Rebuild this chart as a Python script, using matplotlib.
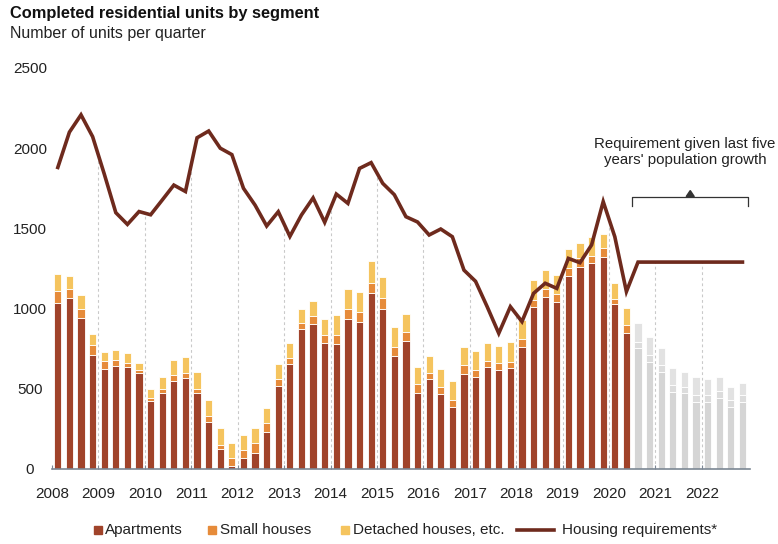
import matplotlib
matplotlib.use("Agg")
import matplotlib.pyplot as plt
from matplotlib.patches import Rectangle, Polygon
from matplotlib.lines import Line2D
import numpy as np

plt.rcParams['font.family'] = ['Liberation Sans', 'DejaVu Sans']

# quarterly data, 2008 Q1 .. 2022 Q4
years = list(range(2008, 2023))
n_actual = 50   # 2008 Q1 .. 2020 Q2 completed
apartments = [1037, 1064, 943, 711, 626, 640, 638, 596, 424, 472, 549, 565,
              472, 295, 123, 21, 66, 98, 233, 517, 653, 875, 904, 783,
              779, 933, 919, 1095, 998, 704, 800, 476, 559, 468, 389, 594,
              575, 638, 617, 628, 763, 1008, 1070, 1043, 1203, 1261, 1282, 1324,
              1029, 850,
              752, 669, 607, 482, 472, 420, 420, 445, 389, 420]
small_houses = [75, 58, 57, 64, 49, 40, 25, 21, 21, 25, 37, 34,
                25, 35, 27, 45, 52, 62, 56, 42, 37, 33, 50, 52,
                56, 62, 62, 63, 70, 59, 52, 54, 37, 41, 41, 54,
                42, 35, 42, 41, 45, 46, 50, 48, 48, 52, 46, 52,
                29, 48,
                40, 40, 40, 40, 40, 40, 40, 40, 40, 40]
detached = [102, 83, 83, 65, 56, 62, 62, 46, 54, 79, 96, 99,
            110, 100, 104, 98, 94, 94, 89, 96, 93, 87, 93, 98,
            125, 125, 125, 139, 131, 124, 112, 108, 111, 112, 119, 115,
            121, 115, 110, 125, 121, 124, 121, 118, 119, 94, 120, 87,
            104, 104,
            120, 112, 105, 106, 91, 116, 99, 86, 84, 78]
requirement = [1880, 2100, 2208, 2072, 1840, 1598, 1525, 1605, 1585, 1677, 1770, 1730,
               2065, 2107, 2000, 1960, 1750, 1645, 1515, 1604, 1450, 1584, 1690, 1538,
               1714, 1656, 1874, 1910, 1781, 1710, 1573, 1540, 1459, 1496, 1448, 1240,
               1170, 1012, 846, 1012, 919, 1095, 1158, 1126, 1313, 1286, 1397, 1667,
               1448, 1106,
               1290, 1290, 1290, 1290, 1290, 1290, 1290, 1290, 1290, 1290]
note = "Requirement given last five\nyears' population growth"

c_apt = '#A0432A'
c_small = '#E68B3A'
c_det = '#F5C45E'
c_line = '#6E2A1D'
c_grey = ['#D5D5D5', '#DCDCDC', '#E2E2E2']
c_axis = '#7C8794'
c_text = '#222222'

W, H = 778, 544
fig = plt.figure(figsize=(W / 100, H / 100), dpi=100)
ax = fig.add_axes([52 / W, (H - 469) / H, (750 - 52) / W, (469 - 68) / H])

x = np.arange(len(apartments))
apt = np.array(apartments)
sm = np.array(small_houses)
dt = np.array(detached)
req = np.array(requirement)

# year boundaries with dashed guides up to the requirement line
bounds = np.arange(1, len(years)) * 4 - 0.5
ax.vlines(bounds, 0, np.interp(bounds, x, req), colors='#C9C9C9',
          linestyles=(0, (2.5, 2.5)), linewidth=0.8, zorder=0)

bw = 0.62
cols_apt = [c_apt] * n_actual + [c_grey[0]] * (len(x) - n_actual)
cols_sm = [c_small] * n_actual + [c_grey[1]] * (len(x) - n_actual)
cols_dt = [c_det] * n_actual + [c_grey[2]] * (len(x) - n_actual)
ax.bar(x, apt, bw, color=cols_apt, edgecolor='white', linewidth=0.6, zorder=2)
ax.bar(x, sm, bw, bottom=apt, color=cols_sm, edgecolor='white', linewidth=0.6, zorder=2)
ax.bar(x, dt, bw, bottom=apt + sm, color=cols_dt, edgecolor='white', linewidth=0.6, zorder=2)

ax.plot(x, req, color=c_line, linewidth=2.6, solid_joinstyle='miter', zorder=3)

# bracket over the projected period
bx0, bx1, by = n_actual - 0.5, len(x) - 0.5, 1698
ax.plot([bx0, bx0, bx1, bx1], [1640, by, by, 1640], color='#333333', linewidth=0.9, zorder=3)
mid = (bx0 + bx1) / 2
ax.add_patch(Polygon([[mid - 0.35, by], [mid + 0.35, by], [mid, by + 38]],
                     closed=True, color='#333333', zorder=3))
ax.text(54.05, 1975, note, ha='center', va='center', fontsize=10.8,
        linespacing=1.2, color=c_text)

ax.set_xlim(-0.5, 59.65)
ax.set_ylim(0, 2500)
for s in ['top', 'right', 'left']:
    ax.spines[s].set_visible(False)
ax.spines['bottom'].set_color(c_axis)
ax.spines['bottom'].set_linewidth(1.2)

ax.set_yticks([0, 500, 1000, 1500, 2000, 2500])
ax.tick_params(axis='y', length=0, pad=16, labelsize=11, labelcolor=c_text)
for lab in ax.get_yticklabels():
    lab.set_horizontalalignment('center')

ax.set_xticks(np.arange(len(years)) * 4 - 0.5)
ax.set_xticklabels([str(y) for y in years])
ax.tick_params(axis='x', length=3, direction='in', color=c_axis, pad=13,
               labelsize=11, labelcolor=c_text)

fig.text(10 / W, 1 - 18 / H, "Completed residential units by segment",
         fontsize=11.8, fontweight='bold', va='baseline', color='#111111')
fig.text(10 / W, 1 - 38 / H, "Number of units per quarter",
         fontsize=11.5, va='baseline', color=c_text)

# legend row
ly = 1 - 530 / H
sq = 8
for px, tx, col, lab in [(94, 105, c_apt, "Apartments"),
                         (208, 220, c_small, "Small houses"),
                         (341, 353, c_det, "Detached houses, etc.")]:
    fig.add_artist(Rectangle((px / W, ly - sq / 2 / H), sq / W, sq / H,
                             transform=fig.transFigure, color=col))
    fig.text(tx / W, ly, lab, fontsize=11, va='center', color=c_text)
fig.add_artist(Line2D([517 / W, 554 / W], [ly, ly], transform=fig.transFigure,
                      color=c_line, linewidth=2.6))
fig.text(562 / W, ly, "Housing requirements*", fontsize=11, va='center', color=c_text)

fig.savefig("out.png", dpi=100)
